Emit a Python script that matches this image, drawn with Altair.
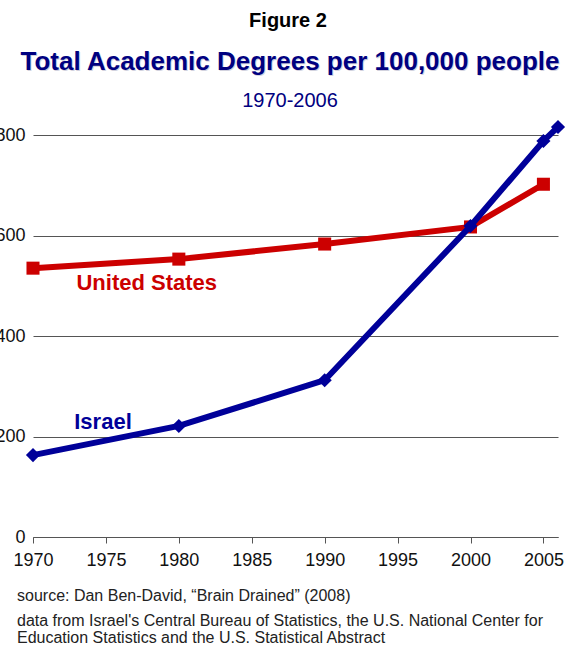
import altair as alt
import pandas as pd

# Degrees per 100,000 people
years = [1970, 1980, 1990, 2000, 2005, 2006]
israel = [163, 221, 312, 619, 788, 816]
us_years = [1970, 1980, 1990, 2000, 2005]
united_states = [535, 553, 583, 617, 702]

x_ticks = [1970, 1975, 1980, 1985, 1990, 1995, 2000, 2005]
y_ticks = [0, 200, 400, 600, 800]

FONT = "Liberation Sans"
RED = "#cc0000"
NAVY = "#000099"
GRID = "#555555"

isr_df = pd.DataFrame({"year": years, "value": israel, "country": "Israel"})
us_df = pd.DataFrame({"year": us_years, "value": united_states, "country": "United States"})

x_enc = alt.X(
    "year:Q",
    scale=alt.Scale(domain=[1970, 2006], nice=False, zero=False),
    axis=alt.Axis(values=x_ticks, format="d", title=None, grid=False,
                  domain=True, domainColor=GRID, ticks=True, tickColor=GRID,
                  tickSize=6, labelPadding=8, labelFontSize=18, labelFont=FONT,
                  labelColor="#111111", labelFlush=False, labelOverlap=False),
)
y_enc = alt.Y(
    "value:Q",
    scale=alt.Scale(domain=[0, 800], nice=False),
    axis=alt.Axis(values=y_ticks, title=None, grid=True, gridColor=GRID,
                  gridWidth=1, domain=False, ticks=False, labelPadding=8,
                  labelFontSize=18, labelFont=FONT, labelColor="#111111"),
)

us_line = alt.Chart(us_df).mark_line(color=RED, strokeWidth=6, clip=False).encode(x=x_enc, y=y_enc)
us_pts = alt.Chart(us_df).mark_point(shape="square", filled=True, opacity=1,
                                     color=RED, size=170, clip=False).encode(x=x_enc, y=y_enc)
isr_line = alt.Chart(isr_df).mark_line(color=NAVY, strokeWidth=6, clip=False).encode(x=x_enc, y=y_enc)
isr_pts = alt.Chart(isr_df).mark_point(shape="diamond", filled=True, opacity=1,
                                       color=NAVY, size=200, clip=False).encode(x=x_enc, y=y_enc)

# Series name labels, anchored in data coordinates
lab_df = pd.DataFrame({
    "year": [1977.8, 1974.8],
    "value": [491, 215],
    "name": ["United States", "Israel"],
})
series_labels = alt.Chart(lab_df).mark_text(
    font=FONT, fontSize=22, fontWeight="bold", baseline="alphabetic", align="center"
).encode(
    x=alt.X("year:Q"), y=alt.Y("value:Q"), text="name:N",
    color=alt.Color("name:N", scale=alt.Scale(domain=["United States", "Israel"],
                                              range=[RED, NAVY]), legend=None),
)


def note(text, x, y, size, color, weight="normal", align="center"):
    return alt.Chart(pd.DataFrame({"t": [text]})).mark_text(
        font=FONT, fontSize=size, fontWeight=weight, color=color,
        align=align, baseline="alphabetic",
    ).encode(text="t:N", x=alt.value(x), y=alt.value(y))


headings = [
    note("Figure 2", 255, -108, 20, "#000000", "bold"),
    note("Total Academic Degrees per 100,000 people", 258, -64, 26, "#d2d2de", "bold"),
    note("Total Academic Degrees per 100,000 people", 257, -65, 26, "#000080", "bold"),
    note("1970-2006", 257, -28, 20, "#000080"),
    note("source: Dan Ben-David, \u201cBrain Drained\u201d (2008)", -16, 466, 16, "#222222", align="left"),
    note("data from Israel's Central Bureau of Statistics, the U.S. National Center for",
         -16, 491, 16, "#222222", align="left"),
    note("Education Statistics and the U.S. Statistical Abstract",
         -16, 508, 16, "#222222", align="left"),
]

chart = alt.layer(
    us_line, us_pts, isr_line, isr_pts, series_labels, *headings
).properties(
    width=525, height=402,
    autosize=alt.AutoSizeParams(type="none"),
    padding={"left": 33, "top": 135, "right": 23, "bottom": 111},
    background="white",
).configure_view(stroke=None)

chart.save("out.html", embed_options={"renderer": "svg", "actions": False})
